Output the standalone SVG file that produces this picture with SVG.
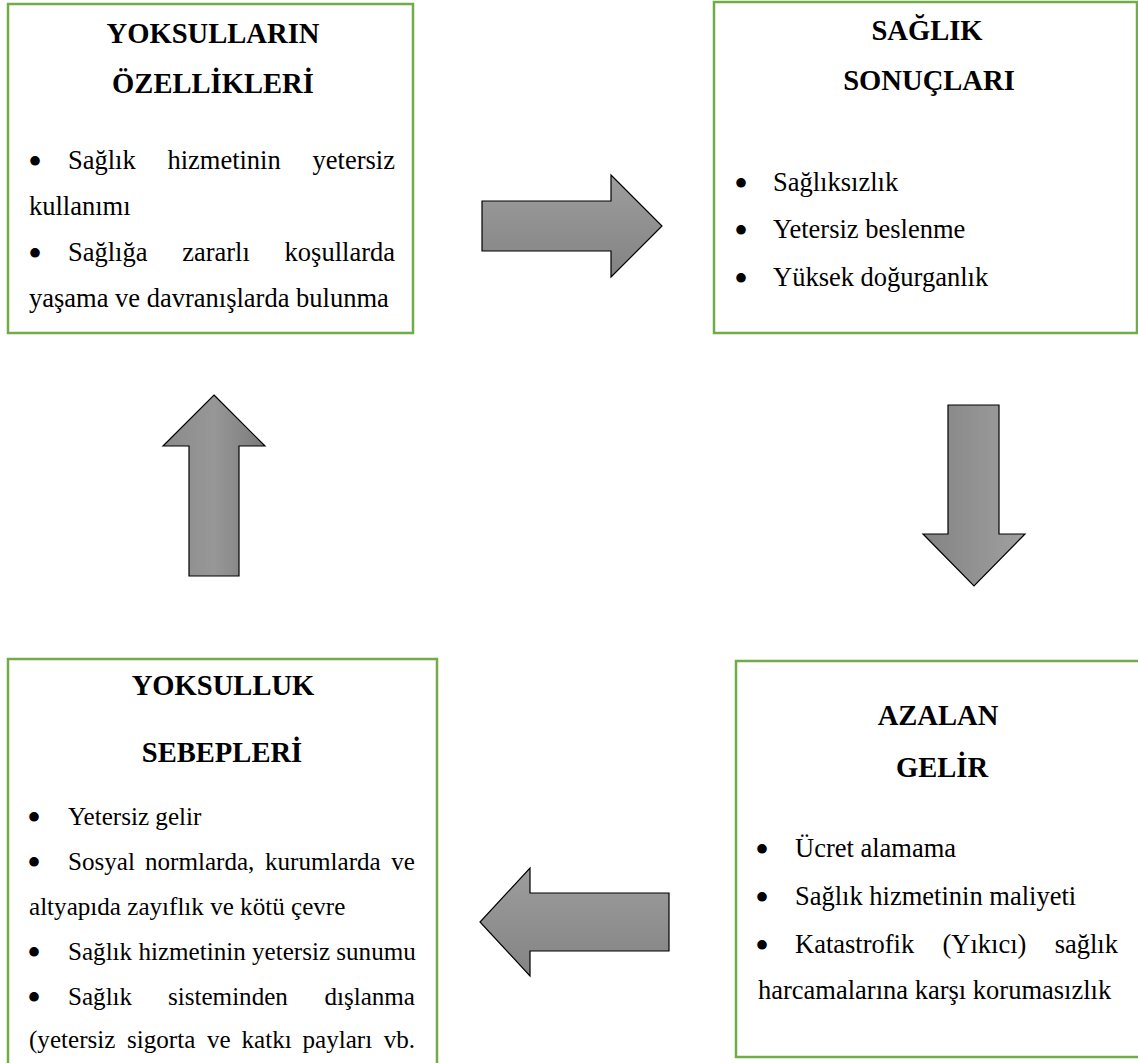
<svg xmlns="http://www.w3.org/2000/svg" width="1138" height="1063" viewBox="0 0 1138 1063">
  <defs>
    <linearGradient id="gradV" x1="0" y1="0" x2="0" y2="1">
      <stop offset="0" stop-color="#9d9d9d"/>
      <stop offset="1" stop-color="#838383"/>
    </linearGradient>
    <linearGradient id="gradUp" x1="0" y1="0" x2="1" y2="0">
      <stop offset="0" stop-color="#8a8a8a"/>
      <stop offset="0.5" stop-color="#979797"/>
      <stop offset="1" stop-color="#7a7a7a"/>
    </linearGradient>
    <linearGradient id="gradDown" x1="0" y1="0" x2="1" y2="0">
      <stop offset="0" stop-color="#838383"/>
      <stop offset="1" stop-color="#a0a0a0"/>
    </linearGradient>
  </defs>
  <style>
    .box { fill: #ffffff; stroke: #70ad47; stroke-width: 2.5; }
    .title { font-family: "Liberation Serif", "Times New Roman", serif; font-weight: bold; font-size: 28.6px; fill: #000; text-anchor: middle; }
    .body { font-family: "Liberation Serif", "Times New Roman", serif; font-size: 26.5px; fill: #000; }
    .small { font-size: 25.1px; }
    .end { text-anchor: end; }
    .bullet { font-family: "Liberation Serif", "Times New Roman", serif; font-size: 40px; fill: #000; text-anchor: middle; }
    .arrow { stroke: #000; stroke-width: 1.2; stroke-linejoin: miter; }
  </style>

  <rect width="1138" height="1063" fill="#ffffff"/>

  <!-- Characteristics of the poor -->
  <g id="node-ozellikler">
    <rect class="box" x="8" y="4" width="405" height="329"/>
    <text class="title" x="213" y="43">YOKSULLARIN</text>
    <text class="title" x="213" y="93">ÖZELLİKLERİ</text>
    <text class="bullet" x="35" y="175">•</text>
    <text class="body" x="68" y="169">Sağlık</text>
    <text class="body" x="167.4" y="169">hizmetinin</text>
    <text class="body end" x="395" y="169">yetersiz</text>
    <text class="body" x="29" y="215">kullanımı</text>
    <text class="bullet" x="35" y="267">•</text>
    <text class="body" x="68" y="261">Sağlığa</text>
    <text class="body" x="182.2" y="261">zararlı</text>
    <text class="body end" x="395" y="261">koşullarda</text>
    <text class="body" x="29" y="307">yaşama ve davranışlarda bulunma</text>
  </g>

  <!-- Health outcomes -->
  <g id="node-saglik-sonuclari">
    <rect class="box" x="714" y="2" width="423" height="331"/>
    <text class="title" x="927" y="40">SAĞLIK</text>
    <text class="title" x="929" y="90">SONUÇLARI</text>
    <text class="bullet" x="741" y="197">•</text>
    <text class="body" x="773" y="191">Sağlıksızlık</text>
    <text class="bullet" x="741" y="244">•</text>
    <text class="body" x="773" y="238">Yetersiz beslenme</text>
    <text class="bullet" x="741" y="292">•</text>
    <text class="body" x="773" y="286">Yüksek doğurganlık</text>
  </g>

  <!-- Reduced income -->
  <g id="node-azalan-gelir">
    <rect class="box" x="736" y="661" width="420" height="396"/>
    <text class="title" x="938" y="725">AZALAN</text>
    <text class="title" x="942" y="777">GELİR</text>
    <text class="bullet" x="762" y="863">•</text>
    <text class="body" x="795" y="857">Ücret alamama</text>
    <text class="bullet" x="762" y="911">•</text>
    <text class="body" x="795" y="905">Sağlık hizmetinin maliyeti</text>
    <text class="bullet" x="762" y="959">•</text>
    <text class="body" x="795" y="953">Katastrofik</text>
    <text class="body" x="942.5" y="953">(Yıkıcı)</text>
    <text class="body end" x="1118" y="953">sağlık</text>
    <text class="body" x="758" y="999">harcamalarına karşı korumasızlık</text>
  </g>

  <!-- Causes of poverty -->
  <g id="node-yoksulluk-sebepleri">
    <rect class="box" x="8" y="659" width="429" height="420"/>
    <text class="title" x="223" y="695">YOKSULLUK</text>
    <text class="title" x="222" y="762">SEBEPLERİ</text>
    <text class="bullet" x="34" y="831">•</text>
    <text class="body small" x="68" y="825">Yetersiz gelir</text>
    <text class="bullet" x="34" y="876">•</text>
    <text class="body small" x="68" y="870">Sosyal</text>
    <text class="body small" x="145" y="870">normlarda,</text>
    <text class="body small" x="265" y="870">kurumlarda</text>
    <text class="body small end" x="415" y="870">ve</text>
    <text class="body small" x="29" y="915">altyapıda zayıflık ve kötü çevre</text>
    <text class="bullet" x="34" y="966">•</text>
    <text class="body small" x="68" y="960">Sağlık hizmetinin yetersiz sunumu</text>
    <text class="bullet" x="34" y="1011">•</text>
    <text class="body small" x="68" y="1005">Sağlık</text>
    <text class="body small" x="168" y="1005">sisteminden</text>
    <text class="body small end" x="415" y="1005">dışlanma</text>
    <text class="body small" x="29" y="1048">(yetersiz</text>
    <text class="body small" x="127" y="1048">sigorta</text>
    <text class="body small" x="207" y="1048">ve</text>
    <text class="body small" x="241.5" y="1048">katkı</text>
    <text class="body small" x="302.5" y="1048">payları</text>
    <text class="body small end" x="415" y="1048">vb.</text>
  </g>

  <!-- Block arrows linking the cycle -->
  <g id="connectors">
    <polygon class="arrow" fill="url(#gradV)" points="482,201 611,201 611,175 662,226 611,277 611,251 482,251"/>
    <polygon class="arrow" fill="url(#gradDown)" points="948,405 999,405 999,534 1025,534 974,586 923,534 948,534"/>
    <polygon class="arrow" fill="url(#gradV)" points="669,893 530,893 530,868 480,922 530,976 530,951 669,951"/>
    <polygon class="arrow" fill="url(#gradUp)" points="214,395 265,446 239,446 239,576 189,576 189,446 163,446"/>
  </g>
</svg>
